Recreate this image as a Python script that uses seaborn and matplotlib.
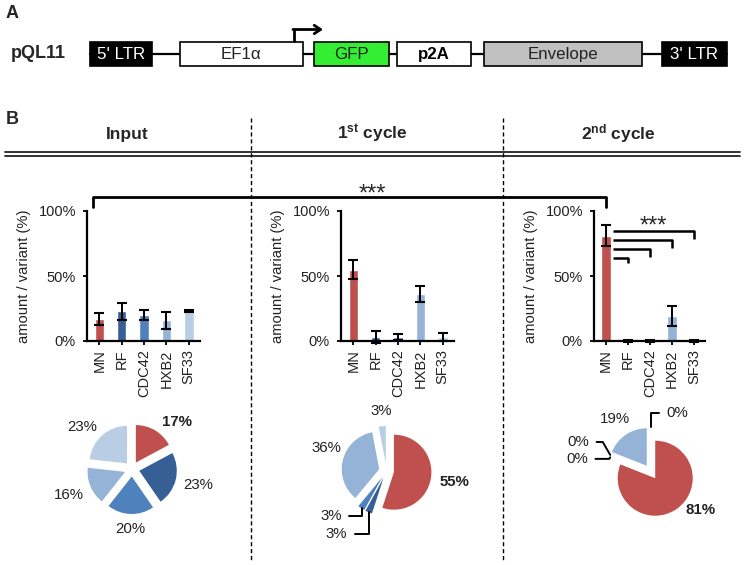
import numpy as np
import pandas as pd
import matplotlib
matplotlib.use('Agg')
import matplotlib.pyplot as plt
import seaborn as sns
from matplotlib.patches import Rectangle

# ---- data ----
variants = ['MN', 'RF', 'CDC42', 'HXB2', 'SF33']
variant_colors = ['#C0504D', '#365F96', '#4F81BD', '#95B3D7', '#B9CDE5']

input_mean = [17, 23, 20, 16, 23]
input_err = [4.5, 6.5, 4, 6.5, 0.6]
cycle1_mean = [55, 3, 3, 36, 3]
cycle1_err = [7.5, 4.5, 2.5, 6.3, 3]
cycle2_mean = [81, 0, 0, 19, 0]
cycle2_err = [8, 0.4, 0.4, 7.7, 0.4]

panel_titles = ['Input', '1$^{st}$ cycle', '2$^{nd}$ cycle']
ytick_vals = [0, 50, 100]
ytick_labels = ['0%', '50%', '100%']

construct_names = ["5' LTR", 'EF1\u03b1', 'GFP', 'p2A', 'Envelope', "3' LTR"]
construct_fill = ['black', 'white', '#33EE33', 'white', '#C0C0C0', 'black']
construct_text = ['white', '#222222', '#222222', 'black', '#222222', 'white']
construct_bold = [False, False, False, True, False, False]

# ---- fonts ----
sns.set_style('white')
plt.rcParams['font.family'] = ['Liberation Sans', 'DejaVu Sans']
plt.rcParams['mathtext.fontset'] = 'custom'
plt.rcParams['mathtext.rm'] = 'Liberation Sans'
plt.rcParams['mathtext.bf'] = 'Liberation Sans:bold'
plt.rcParams['mathtext.it'] = 'Liberation Sans:bold'

W, H = 745, 565
fig = plt.figure(figsize=(W / 100, H / 100), dpi=100)


def px_axes(left, top, right, bottom):
    ax = fig.add_axes([left / W, 1 - bottom / H, (right - left) / W, (bottom - top) / H])
    ax.patch.set_alpha(0)
    return ax


# overlay in pixel coordinates for the schematic and decorations
ov = px_axes(0, 0, W, H)
ov.set_xlim(0, W)
ov.set_ylim(H, 0)
ov.axis('off')

# ---- panel A: construct ----
ov.text(6, 14, 'A', fontsize=13, fontweight='bold', ha='left', va='center')
ov.text(11, 53, 'pQL11', fontsize=13, fontweight='bold', ha='left', va='center')
spans = [(90, 152), (180, 303), (314, 389), (397, 471), (484, 642), (662, 727)]
ov.plot([90, 727], [54, 54], color='black', lw=1.6, zorder=1)
for (x0, x1), name, fc, tc, bold in zip(spans, construct_names, construct_fill,
                                        construct_text, construct_bold):
    ov.add_patch(Rectangle((x0, 42), x1 - x0, 24, facecolor=fc, edgecolor='black',
                           lw=1.2, zorder=2))
    ov.text((x0 + x1) / 2, 54.5, name, color=tc, fontsize=12.2,
            fontweight='bold' if bold else 'normal', ha='center', va='center', zorder=3)
ov.plot([294, 294], [42, 29.5], color='black', lw=2, zorder=3, solid_capstyle='butt')
ov.annotate('', xy=(323, 29.5), xytext=(293, 29.5),
            arrowprops=dict(arrowstyle='->,head_length=0.45,head_width=0.3', lw=2,
                            color='black', shrinkA=0, shrinkB=0))

# ---- panel B decorations ----
ov.text(6, 119, 'B', fontsize=13, fontweight='bold', ha='left', va='center')
title_x = [127, 372, 618]
for tx, t in zip(title_x, panel_titles):
    ov.text(tx, 134, t, fontsize=12.5, fontweight='bold', ha='center', va='center')
for yy in (151.5, 155.5):
    ov.plot([5, 740], [yy, yy], color='#222222', lw=1.3)
for xx in (251, 503):
    ov.plot([xx, xx], [118, 560], color='black', lw=1, dashes=(3, 2))

# long comparison bracket Input MN vs 2nd cycle MN
ov.plot([93, 93, 606, 606], [207, 197, 197, 207], color='black', lw=2)
ov.text(372, 195, '***', fontsize=17, ha='center', va='center')


def bar_panel(rect, means, errs):
    ax = px_axes(*rect)
    df = pd.DataFrame({'variant': variants, 'value': means})
    sns.barplot(data=df, x='variant', y='value', hue='variant', palette=variant_colors,
                width=0.42, errorbar=None, legend=False, saturation=1, ax=ax)
    ax.errorbar(np.arange(len(variants)), means, yerr=errs, fmt='none', ecolor='black',
                elinewidth=1.4, capsize=3.5, capthick=1.5, clip_on=False, zorder=5)
    ax.set_xlim(-0.55, 4.5)
    ax.set_ylim(0, 100)
    ax.set_yticks(ytick_vals)
    ax.set_yticklabels(ytick_labels)
    ax.set_xticks(range(len(variants)))
    ax.set_xticklabels(variants, rotation=90)
    ax.set_xlabel('')
    ax.set_ylabel('amount / variant (%)', fontsize=10.6, labelpad=5, color='#222222')
    ax.tick_params(axis='both', labelsize=10.5, length=3, width=1.3, pad=3,
                   colors='black', labelcolor='#222222', left=True, bottom=True)
    ax.tick_params(axis='y', pad=5)
    sns.despine(ax=ax)
    for side in ('left', 'bottom'):
        ax.spines[side].set_linewidth(1.6)
        ax.spines[side].set_color('black')
    ax.grid(False)
    return ax


bar_rects = [(87, 211, 200, 341), (341, 211, 454, 341), (594, 211, 705, 341)]
bar_panel(bar_rects[0], input_mean, input_err)
bar_panel(bar_rects[1], cycle1_mean, cycle1_err)
ax2 = bar_panel(bar_rects[2], cycle2_mean, cycle2_err)

# MN vs each other variant in the 2nd cycle
for j, target in enumerate([4, 3, 2, 1]):
    yy = 84.5 - 7 * j
    ax2.plot([0.3, target, target], [yy, yy, yy - (6 if j < 3 else 3.5)],
             color='black', lw=1.8, clip_on=False, solid_capstyle='butt')
ax2.text(2.15, 88, '***', fontsize=17, ha='center', va='center')

R_PX = 37.5


def pie_panel(center, values, leaders, placed):
    cx, cy = center
    s = 85
    ax = px_axes(cx - s, cy - s, cx + s, cy + s)
    wedges, _ = ax.pie(values, colors=variant_colors, startangle=90, counterclock=False,
                       explode=[0.2] * len(values), wedgeprops={'linewidth': 0})
    lim = s / R_PX
    ax.set_xlim(-lim, lim)
    ax.set_ylim(-lim, lim)
    ax.axis('off')
    for i, w in enumerate(wedges):
        mid = np.deg2rad((w.theta1 + w.theta2) / 2)
        u = np.array([np.cos(mid), np.sin(mid)])
        c = np.array(w.center)
        label = f'{values[i]}%'
        weight = 'bold' if i == 0 else 'normal'
        if i in leaders:
            tx, ty, ha, angb = leaders[i]
            ax.annotate(label, xy=c + 0.95 * u, xytext=(tx, ty), ha=ha, va='center',
                        fontsize=10.8, color='#222222',
                        arrowprops=dict(arrowstyle='-', lw=1.4, color='black',
                                        shrinkA=3, shrinkB=1,
                                        relpos=(1 if ha == 'right' else 0, 0.5),
                                        connectionstyle=f'angle,angleA=0,angleB={angb},rad=0'))
            continue
        if i in placed:
            ang, d = placed[i]
            v = np.array([np.cos(np.deg2rad(ang)), np.sin(np.deg2rad(ang))])
        else:
            v, d = u, 1.38 + 0.25 * abs(u[0])
        ax.text(*(c + d * v), label, ha='center', va='center', fontsize=10.8,
                fontweight=weight, color='#222222')


pie_panel((132, 469), input_mean, {}, {0: (45, 1.54), 4: (141, 1.54)})
pie_panel((386.5, 471), cycle1_mean, {1: (-1.05, -1.68, 'right', 90),
                                      2: (-1.19, -1.2, 'right', 90)},
          {3: (158, 1.52)})
pie_panel((651, 472), cycle2_mean, {1: (-1.65, 0.8, 'right', -60),
                                    2: (-1.68, 0.35, 'right', 60),
                                    4: (0.4, 1.57, 'left', 90)},
          {0: (-35.5, 1.48)})

fig.savefig('out.png', dpi=100)
